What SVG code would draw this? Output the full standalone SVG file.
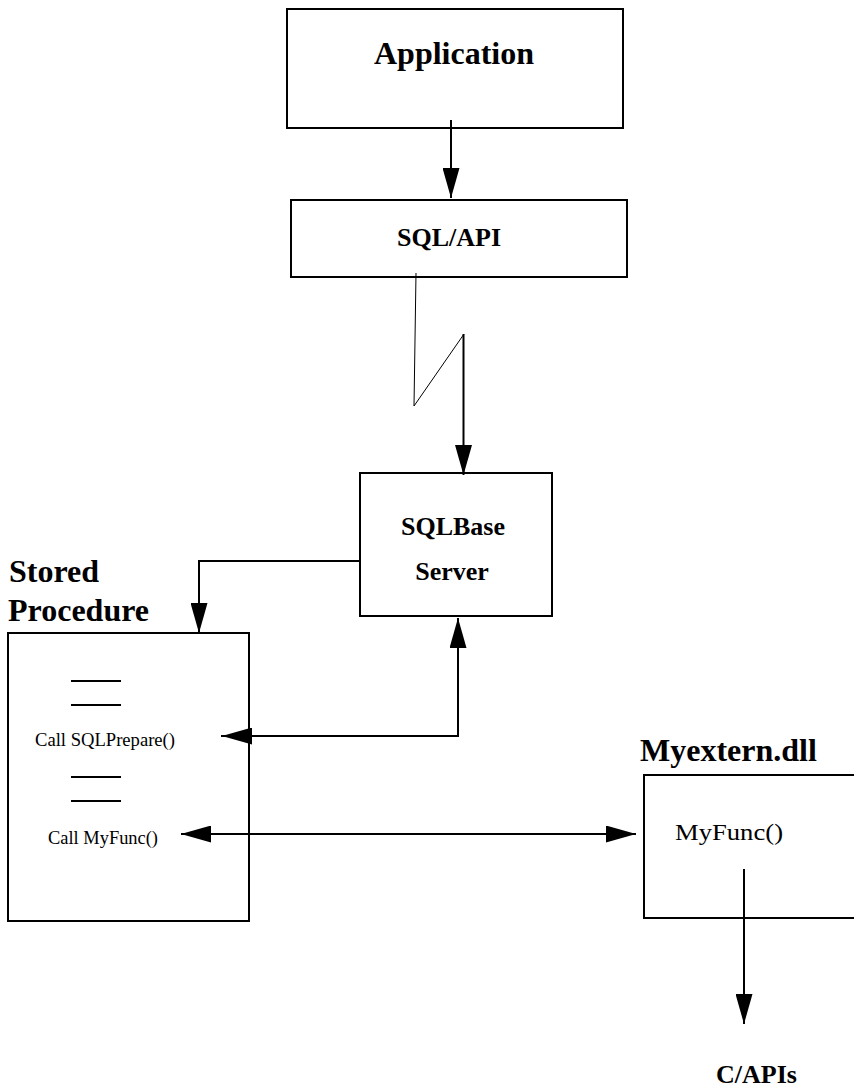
<svg xmlns="http://www.w3.org/2000/svg" width="854" height="1088" viewBox="0 0 854 1088">
<style>
.box{fill:none;stroke:#000;stroke-width:2}
.ln{fill:none;stroke:#000;stroke-width:2}
.thin{fill:none;stroke:#000;stroke-width:1}
.b32{font-family:"Liberation Serif","Times New Roman",serif;font-weight:bold;font-size:32px;fill:#000}
.b26{font-family:"Liberation Serif","Times New Roman",serif;font-weight:bold;font-size:26px;fill:#000}
.r{font-family:"Liberation Serif","Times New Roman",serif;font-size:19px;fill:#000}
.r24{font-family:"Liberation Serif","Times New Roman",serif;font-size:24px;fill:#000}
</style>
<defs>
<marker id="ah" markerUnits="userSpaceOnUse" markerWidth="30" markerHeight="17" refX="30" refY="8.5" orient="auto-start-reverse" viewBox="0 0 30 17">
<path d="M0,0 L30,8.5 L0,17 Z" fill="#000"/>
</marker>
</defs>
<rect width="854" height="1088" fill="#fff"/>
<g id="application">
<rect class="box" x="287" y="9" width="336" height="119"/>
<text class="b32" x="454" y="64" text-anchor="middle">Application</text>
</g>
<g id="sqlapi">
<rect class="box" x="291" y="200" width="336" height="77"/>
<text class="b26" x="449" y="246" text-anchor="middle">SQL/API</text>
</g>
<g id="sqlbase">
<rect class="box" x="360" y="473" width="192" height="143"/>
<text class="b26" x="453" y="535" text-anchor="middle">SQLBase</text>
<text class="b26" x="452" y="580" text-anchor="middle">Server</text>
</g>
<g id="storedproc">
<text class="b32" x="9" y="582">Stored</text>
<text class="b32" x="8" y="621">Procedure</text>
<rect class="box" x="8" y="633" width="241" height="288"/>
<line class="ln" x1="71" y1="681" x2="121" y2="681"/>
<line class="ln" x1="71" y1="705" x2="121" y2="705"/>
<text class="r" x="35" y="746" textLength="140" lengthAdjust="spacingAndGlyphs">Call SQLPrepare()</text>
<line class="ln" x1="71" y1="777" x2="121" y2="777"/>
<line class="ln" x1="71" y1="801" x2="121" y2="801"/>
<text class="r" x="48" y="844" textLength="110" lengthAdjust="spacingAndGlyphs">Call MyFunc()</text>
</g>
<g id="myextern">
<text class="b32" x="640" y="761">Myextern.dll</text>
<rect class="box" x="644" y="775" width="230" height="143"/>
<text class="r24" x="675" y="840" textLength="108" lengthAdjust="spacingAndGlyphs">MyFunc()</text>
</g>
<g id="capis">
<text class="b26" x="716" y="1083">C/APIs</text>
</g>
<g id="connectors">
<line class="ln" x1="451" y1="120" x2="451" y2="198" marker-end="url(#ah)"/>
<polyline class="thin" points="416,273 414,406 464,334"/>
<line class="ln" x1="463.5" y1="334" x2="463.5" y2="475" marker-end="url(#ah)"/>
<polyline class="ln" points="360,561 199,561 199,633" marker-end="url(#ah)"/>
<polyline class="ln" points="221,736 458,736 458,618" marker-end="url(#ah)"/>
<polyline class="ln" points="222,736 458,736" marker-start="url(#ah)"/>
<line class="ln" x1="181" y1="834" x2="636" y2="834" marker-start="url(#ah)" marker-end="url(#ah)"/>
<line class="ln" x1="744" y1="869" x2="744" y2="1024" marker-end="url(#ah)"/>
</g>
</svg>
